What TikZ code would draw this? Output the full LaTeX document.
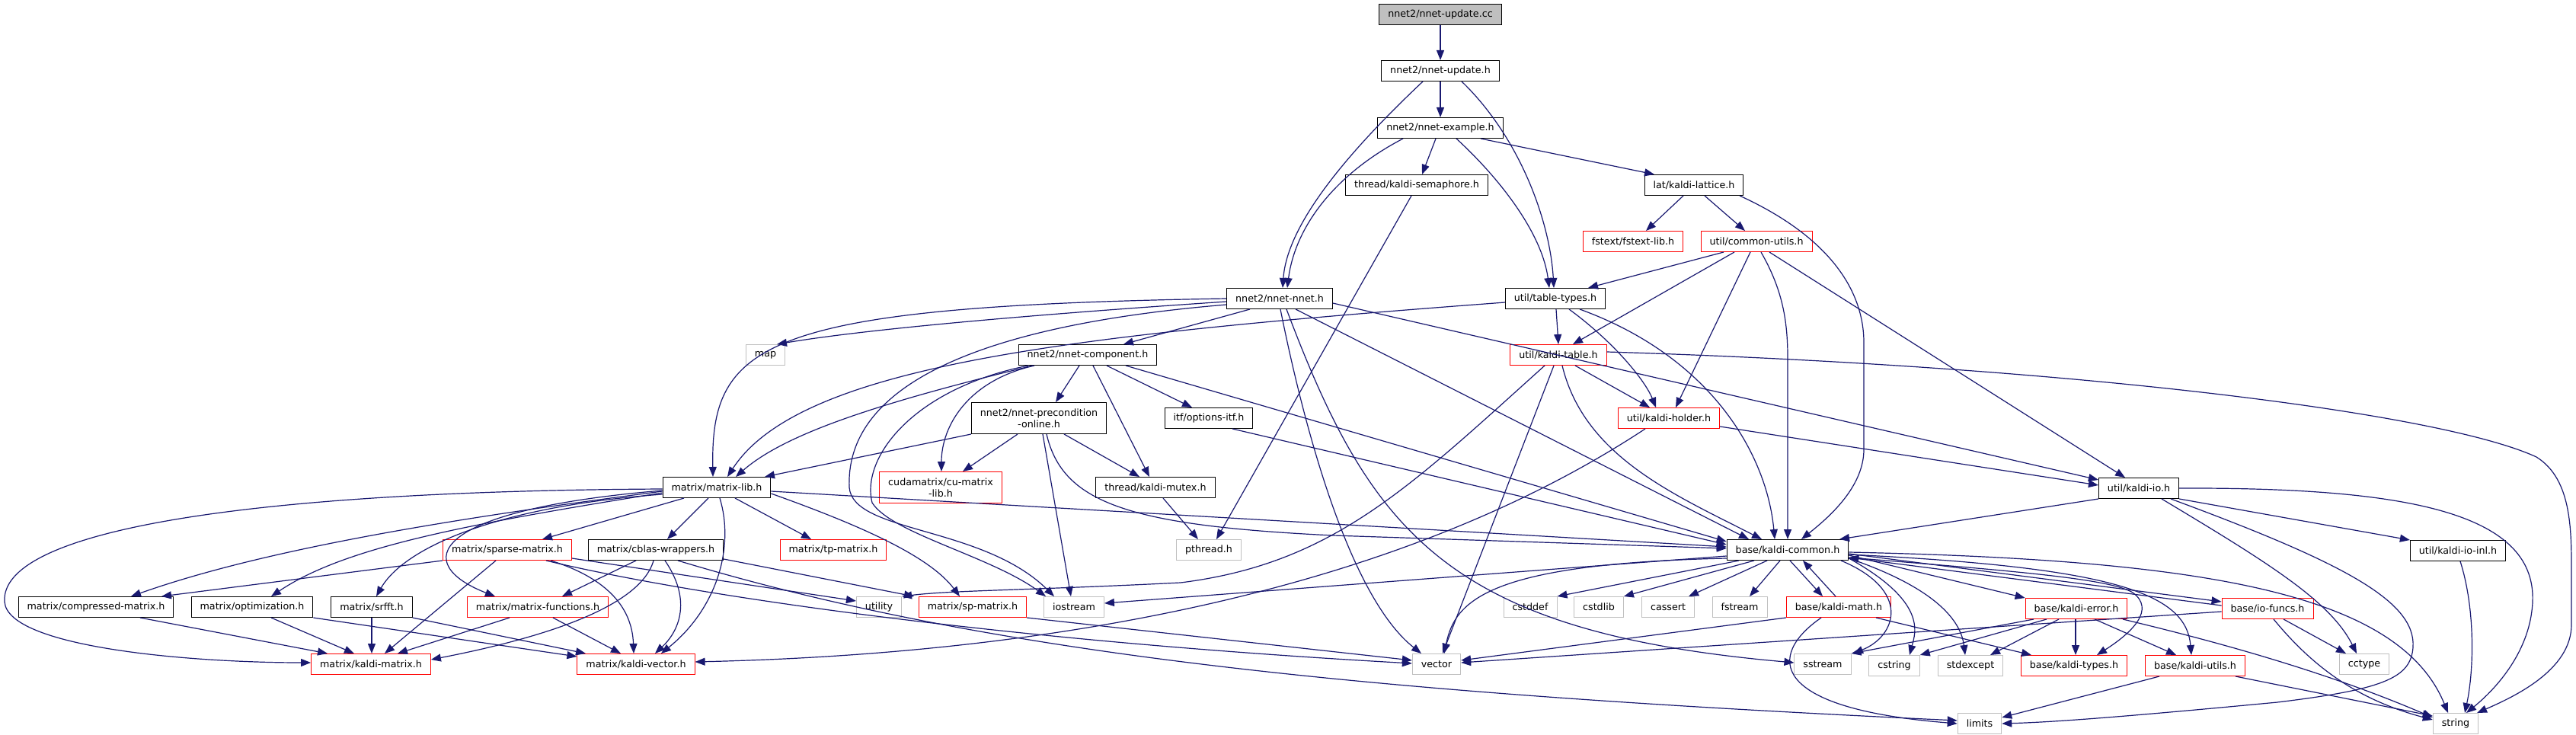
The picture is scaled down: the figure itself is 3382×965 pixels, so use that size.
\documentclass[tikz,border=0pt]{standalone}
\usepackage{fontspec}
\setmainfont{DejaVu Sans}
\usetikzlibrary{arrows.meta}
\definecolor{edgeblue}{HTML}{191970}
\definecolor{grey75}{HTML}{BFBFBF}
\definecolor{redbox}{HTML}{FF0000}
\begin{document}
\begin{tikzpicture}[x=1pt,y=-1pt,
  base/.style={draw, line width=1pt, inner xsep=11.5pt, inner ysep=0pt, minimum height=27pt, fill=white, text=black, font=\fontsize{12.7}{15}\selectfont},
  blk/.style={base, draw=black},
  trunc/.style={base, draw=redbox},
  ext/.style={base, draw=grey75},
  rootbox/.style={base, draw=black, fill=grey75},
  two/.style={align=center, minimum height=41pt},
  e/.style={draw=edgeblue, line width=1.2pt, -{Triangle[length=13pt,width=10pt]}}]
\fill[white] (0,0) rectangle (3382,965);
\useasboundingbox (0,0) rectangle (3382,965);
% nodes
\node[rootbox] (cc) at (1891,19) {nnet2/nnet-update.cc};
\node[blk] (upd) at (1891,93) {nnet2/nnet-update.h};
\node[blk] (ex) at (1891,168) {nnet2/nnet-example.h};
\node[blk] (sem) at (1860,243) {thread/kaldi-semaphore.h};
\node[blk] (lat) at (2224,243) {lat/kaldi-lattice.h};
\node[trunc] (fst) at (2144,317) {fstext/fstext-lib.h};
\node[trunc] (cu) at (2306,317) {util/common-utils.h};
\node[ext] (map) at (1005,466) {map};
\node[blk] (nn) at (1680,392) {nnet2/nnet-nnet.h};
\node[blk] (tt) at (2042,392) {util/table-types.h};
\node[blk] (comp) at (1428,466) {nnet2/nnet-component.h};
\node[trunc] (kt) at (2046,466) {util/kaldi-table.h};
\node[blk,two] (pre) at (1364,549) {nnet2/nnet-precondition\\-online.h};
\node[blk] (opt) at (1587,549) {itf/options-itf.h};
\node[trunc] (kh) at (2191,549) {util/kaldi-holder.h};
\node[blk] (ml) at (941,640) {matrix/matrix-lib.h};
\node[trunc,two] (cml) at (1235,640) {cudamatrix/cu-matrix\\-lib.h};
\node[blk] (mut) at (1517,640) {thread/kaldi-mutex.h};
\node[blk] (kio) at (2808,641) {util/kaldi-io.h};
\node[trunc] (spm) at (666,722) {matrix/sparse-matrix.h};
\node[blk] (cbl) at (861,722) {matrix/cblas-wrappers.h};
\node[trunc] (tpm) at (1094,722) {matrix/tp-matrix.h};
\node[ext] (pth) at (1587,722) {pthread.h};
\node[blk] (kc) at (2347,722) {base/kaldi-common.h};
\node[blk] (kioi) at (3227,723) {util/kaldi-io-inl.h};
\node[blk] (cmp) at (126,797) {matrix/compressed-matrix.h};
\node[blk] (optm) at (331,797) {matrix/optimization.h};
\node[blk] (srf) at (488,797) {matrix/srfft.h};
\node[trunc] (mf) at (706,797) {matrix/matrix-functions.h};
\node[ext] (uti) at (1154,797) {utility};
\node[trunc] (sp) at (1277,797) {matrix/sp-matrix.h};
\node[ext] (ios) at (1410,797) {iostream};
\node[ext] (cdef) at (2009,797) {cstddef};
\node[ext] (clib) at (2099,797) {cstdlib};
\node[ext] (cas) at (2190,797) {cassert};
\node[ext] (fs) at (2284,797) {fstream};
\node[trunc] (km) at (2414,797) {base/kaldi-math.h};
\node[trunc] (ke) at (2726,799) {base/kaldi-error.h};
\node[trunc] (iof) at (2977,799) {base/io-funcs.h};
\node[trunc] (kmat) at (487,872) {matrix/kaldi-matrix.h};
\node[trunc] (kvec) at (835,872) {matrix/kaldi-vector.h};
\node[ext] (vec) at (1886,872) {vector};
\node[ext] (sst) at (2393,872) {sstream};
\node[ext] (cstr) at (2487,874) {cstring};
\node[ext] (sexc) at (2587,874) {stdexcept};
\node[trunc] (kty) at (2723,874) {base/kaldi-types.h};
\node[trunc] (kut) at (2882,874) {base/kaldi-utils.h};
\node[ext] (cct) at (3104,872) {cctype};
\node[ext] (lim) at (2599,950) {limits};
\node[ext] (str) at (3224,950) {string};
% edges: top
\draw[e] (cc) -- (upd);
\draw[e] (upd) -- (ex);
\draw[e] (1868,0 |- upd.south) .. controls (1780,190) and (1690,290) .. (1684,0 |- nn.north);
\draw[e] (1919,0 |- upd.south) .. controls (1995,180) and (2035,290) .. (2040,0 |- tt.north);
\draw[e] (1842,0 |- ex.south) .. controls (1750,230) and (1700,300) .. (1690,0 |- nn.north);
\draw[e] (1885,0 |- ex.south) -- (1867,0 |- sem.north);
\draw[e] (1912,0 |- ex.south) .. controls (1975,240) and (2025,310) .. (2034,0 |- tt.north);
\draw[e] (1944,0 |- ex.south) -- (2172,0 |- lat.north);
\draw[e] (2210,0 |- lat.south) -- (2161,0 |- fst.north);
\draw[e] (2238,0 |- lat.south) -- (2291,0 |- cu.north);
\draw[e] (2284,0 |- lat.south) .. controls (2400,310) and (2447,380) .. (2447,450) -- (2447,590) .. controls (2447,640) and (2400,680) .. (2365,0 |- kc.north);
% common-utils
\draw[e] (2263,0 |- cu.south) -- (2085,0 |- tt.north);
\draw[e] (2277,0 |- cu.south) -- (2065,0 |- kt.north);
\draw[e] (2298,0 |- cu.south) -- (2200,0 |- kh.north);
\draw[e] (2312,0 |- cu.south) .. controls (2340,380) and (2347,420) .. (2347,470) -- (2347,0 |- kc.north);
\draw[e] (2323,0 |- cu.south) -- (2790,0 |- kio.north);
% nnet-nnet
\draw[e] (nn.west |- 0,396) .. controls (1400,410) and (1150,430) .. (1020,0 |- map.north);
\draw[e] (nn.west |- 0,392) .. controls (1000,402) and (933,450) .. (936,0 |- ml.north);
\draw[e] (1641,0 |- nn.south) -- (1475,0 |- comp.north);
\draw[e] (nn.west |- 0,400) .. controls (1250,430) and (1110,520) .. (1115,640) .. controls (1120,700) and (1290,690) .. (1384,0 |- ios.north);
\draw[e] (1701,0 |- nn.south) -- (2296,0 |- kc.north);
\draw[e] (1681,0 |- nn.south) .. controls (1720,600) and (1780,790) .. (1866,0 |- vec.north);
\draw[e] (1689,0 |- nn.south) .. controls (1800,700) and (1900,830) .. (sst.west |- 0,870);
\draw[e] (nn.east |- 0,398) -- (kio.west |- 0,630);
% table-types
\draw[e] (tt.west |- 0,397) .. controls (1400,440) and (1050,480) .. (955,0 |- ml.north);
\draw[e] (2043,0 |- tt.south) -- (2046,0 |- kt.north);
\draw[e] (2060,0 |- tt.south) .. controls (2120,450) and (2160,500) .. (2174,0 |- kh.north);
\draw[e] (2074,0 |- tt.south) .. controls (2250,470) and (2320,600) .. (2330,0 |- kc.north);
% component
\draw[e] (1356,0 |- comp.south) .. controls (1150,530) and (1030,570) .. (966,0 |- ml.north);
\draw[e] (1417,0 |- comp.south) -- (1386,0 |- pre.north);
\draw[e] (1358,0 |- comp.south) .. controls (1270,500) and (1236,560) .. (1236,0 |- cml.north);
\draw[e] (1435,0 |- comp.south) -- (1509,0 |- mut.north);
\draw[e] (1453,0 |- comp.south) -- (1565,0 |- opt.north);
\draw[e] (1478,0 |- comp.south) -- (kc.west |- 0,711);
\draw[e] (1350,0 |- comp.south) .. controls (1200,510) and (1130,600) .. (1145,660) .. controls (1170,700) and (1300,730) .. (1373,0 |- ios.north);
% kaldi-table
\draw[e] (kt.east |- 0,462) .. controls (2700,480) and (3200,540) .. (3330,600) .. controls (3378,630) and (3376,700) .. (3376,760) -- (3376,820) .. controls (3376,880) and (3300,915) .. (3252,0 |- str.north);
\draw[e] (2028,0 |- kt.south) .. controls (1850,640) and (1750,740) .. (1550,765) .. controls (1350,775) and (1250,775) .. (uti.north east);
\draw[e] (2040,0 |- kt.south) -- (1894,0 |- vec.north);
\draw[e] (2051,0 |- kt.south) .. controls (2080,600) and (2200,650) .. (2313,0 |- kc.north);
\draw[e] (2068,0 |- kt.south) -- (2166,0 |- kh.north);
% precondition
\draw[e] (pre.south west) -- (1004,0 |- ml.north);
\draw[e] (1336,0 |- pre.south) -- (1264,0 |- cml.north);
\draw[e] (1369,0 |- pre.south) -- (1406,0 |- ios.north);
\draw[e] (1374,0 |- pre.south) .. controls (1395,660) and (1480,690) .. (1750,703) -- (kc.west |- 0,720);
\draw[e] (1397,0 |- pre.south) -- (1496,0 |- mut.north);
% options-itf
\draw[e] (1618,0 |- opt.south) -- (kc.west |- 0,715);
% kaldi-holder
\draw[e] (kh.east |- 0,560) -- (kio.west |- 0,637);
\draw[e] (2160,0 |- kh.south) .. controls (1800,800) and (1300,860) .. (kvec.east |- 0,869);
% matrix-lib
\draw[e] (ml.west |- 0,642) .. controls (300,645) and (0,700) .. (6,790) .. controls (10,850) and (250,870) .. (kmat.west |- 0,870);
\draw[e] (ml.west |- 0,645) .. controls (600,680) and (350,720) .. (172,0 |- cmp.north);
\draw[e] (ml.west |- 0,647) .. controls (600,690) and (450,720) .. (356,0 |- optm.north);
\draw[e] (ml.west |- 0,649) .. controls (650,665) and (530,720) .. (494,0 |- srf.north);
\draw[e] (ml.west |- 0,644) .. controls (560,670) and (540,740) .. (650,0 |- mf.north);
\draw[e] (898,0 |- ml.south) -- (712,0 |- spm.north);
\draw[e] (930,0 |- ml.south) -- (876,0 |- cbl.north);
\draw[e] (965,0 |- ml.south) -- (1065,0 |- tpm.north);
\draw[e] (945,0 |- ml.south) .. controls (965,720) and (940,800) .. (868,0 |- kvec.north);
\draw[e] (ml.east |- 0,648) .. controls (1130,690) and (1220,730) .. (1260,0 |- sp.north);
\draw[e] (ml.east |- 0,645) -- (kc.west |- 0,718);
% cblas
\draw[e] (835,0 |- cbl.south) -- (738,0 |- mf.north);
\draw[e] (858,0 |- cbl.south) .. controls (840,800) and (700,840) .. (kmat.east |- 0,866);
\draw[e] (873,0 |- cbl.south) .. controls (910,790) and (890,830) .. (860,0 |- kvec.north);
\draw[e] (cbl.east |- 0,734) -- (1200,0 |- sp.north);
\draw[e] (890,0 |- cbl.south) .. controls (1300,860) and (1800,910) .. (lim.west |- 0,946);
% sparse-matrix
\draw[e] (spm.south west) -- (212,0 |- cmp.north);
\draw[e] (651,0 |- spm.south) -- (505,0 |- kmat.north);
\draw[e] (723,0 |- spm.south) .. controls (800,760) and (830,800) .. (832,0 |- kvec.north);
\draw[e] (spm.east |- 0,733) -- (uti.west |- 0,789);
\draw[e] (717,0 |- spm.south) .. controls (900,780) and (1300,840) .. (vec.west |- 0,871);
% sp-matrix
\draw[e] (sp.south east) -- (vec.west |- 0,867);
% small matrix headers
\draw[e] (184,0 |- cmp.south) -- (430,0 |- kmat.north);
\draw[e] (356,0 |- optm.south) -- (465,0 |- kmat.north);
\draw[e] (optm.south east) -- (kvec.west |- 0,862);
\draw[e] (488,0 |- srf.south) -- (488,0 |- kmat.north);
\draw[e] (srf.south east) -- (769,0 |- kvec.north);
\draw[e] (669,0 |- mf.south) -- (522,0 |- kmat.north);
\draw[e] (726,0 |- mf.south) -- (815,0 |- kvec.north);
% threads
\draw[e] (1527,0 |- mut.south) -- (1573,0 |- pth.north);
\draw[e] (1853,0 |- sem.south) -- (1597,0 |- pth.north);
% kaldi-io
\draw[e] (kio.south west) -- (2415,0 |- kc.north);
\draw[e] (kio.east |- 0,641) .. controls (3150,640) and (3330,670) .. (3325,790) .. controls (3322,860) and (3270,910) .. (3238,0 |- str.north);
\draw[e] (kio.south east) -- (kioi.north west);
\draw[e] (2838,0 |- kio.south) .. controls (2980,740) and (3060,790) .. (3094,0 |- cct.north);
\draw[e] (2850,0 |- kio.south) .. controls (3080,740) and (3172,790) .. (3168,850) .. controls (3165,890) and (3130,905) .. (2990,922) .. controls (2800,940) and (2700,948) .. (lim.east |- 0,950);
\draw[e] (3230,0 |- kioi.south) .. controls (3250,800) and (3248,880) .. (3236,0 |- str.north);
% kaldi-common
\draw[e] (kc.west |- 0,730) -- (ios.east |- 0,792);
\draw[e] (2283,0 |- kc.south) -- (cdef.north east);
\draw[e] (2303,0 |- kc.south) -- (clib.north east);
\draw[e] (2320,0 |- kc.south) -- (2217,0 |- cas.north);
\draw[e] (2337,0 |- kc.south) -- (2297,0 |- fs.north);
\draw[e] (2350,0 |- kc.south) -- (2393,0 |- km.north);
\draw[e] (2410,0 |- km.north) -- (2367,0 |- kc.south);
\draw[e] (kc.west |- 0,733) .. controls (1950,740) and (1910,790) .. (1896,0 |- vec.north);
\draw[e] (2417,0 |- kc.south) .. controls (2510,775) and (2490,835) .. (2433,0 |- sst.north);
\draw[e] (kc.east |- 0,733) .. controls (2530,790) and (2515,830) .. (2507,0 |- cstr.north);
\draw[e] (kc.east |- 0,733) .. controls (2550,775) and (2575,820) .. (2580,0 |- sexc.north);
\draw[e] (kc.east |- 0,732) .. controls (2650,750) and (2770,760) .. (2800,778) .. controls (2830,800) and (2800,830) .. (2753,0 |- kty.north);
\draw[e] (kc.east |- 0,728) .. controls (2780,745) and (2870,780) .. (2877,0 |- kut.north);
\draw[e] (kc.east |- 0,729) -- (ke.north west);
\draw[e] (kc.east |- 0,727) -- (iof.west |- 0,790);
\draw[e] (iof.west |- 0,795) -- (kc.east |- 0,732);
\draw[e] (kc.east |- 0,725) .. controls (2900,735) and (3150,780) .. (3214,0 |- str.north);
% kaldi-math
\draw[e] (km.south west) -- (vec.east |- 0,867);
\draw[e] (2391,0 |- km.south) .. controls (2320,860) and (2320,930) .. (lim.west |- 0,950);
\draw[e] (2463,0 |- km.south) -- (2667,0 |- kty.north);
% kaldi-error
\draw[e] (2670,0 |- ke.south) -- (sst.north east);
\draw[e] (2687,0 |- ke.south) -- (cstr.north east);
\draw[e] (2703,0 |- ke.south) -- (2613,0 |- sexc.north);
\draw[e] (2725,0 |- ke.south) -- (2725,0 |- kty.north);
\draw[e] (2750,0 |- ke.south) -- (2857,0 |- kut.north);
\draw[e] (2787,0 |- ke.south) .. controls (2900,840) and (3050,880) .. (str.west |- 0,942);
% io-funcs
\draw[e] (iof.west |- 0,803) -- (vec.east |- 0,870);
\draw[e] (2985,0 |- iof.south) .. controls (3040,880) and (3100,920) .. (str.west |- 0,945);
\draw[e] (2998,0 |- iof.south) -- (3080,0 |- cct.north);
% kaldi-utils
\draw[e] (2835,0 |- kut.south) -- (lim.east |- 0,942);
\draw[e] (2935,0 |- kut.south) -- (str.west |- 0,940);
\end{tikzpicture}
\end{document}
